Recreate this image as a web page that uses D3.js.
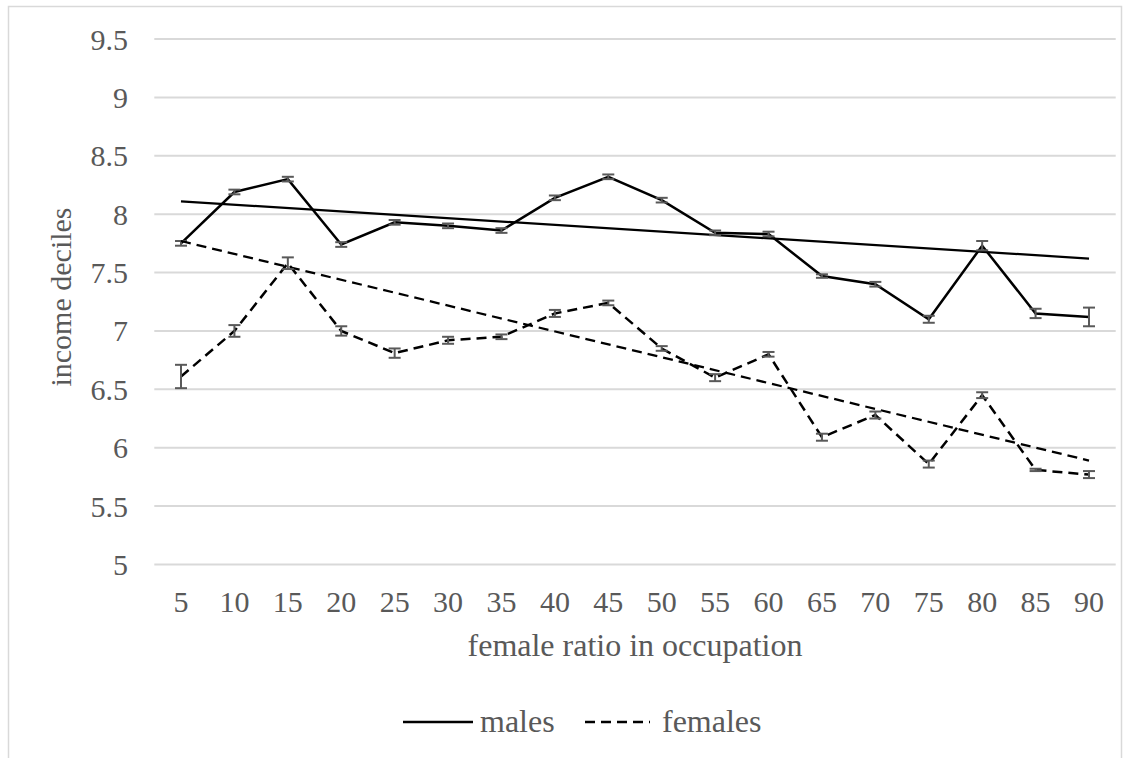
<!DOCTYPE html>
<meta charset="utf-8">
<body style="margin:0;background:#fff">

<svg width="1132" height="758"></svg>

<script src="https://d3js.org/d3.v7.min.js"></script>
<script>

// values
var categories = [5, 10, 15, 20, 25, 30, 35, 40, 45, 50, 55, 60, 65, 70, 75, 80, 85, 90];
var males = [7.75, 8.19, 8.30, 7.74, 7.93, 7.90, 7.86, 8.14, 8.32, 8.12, 7.84, 7.83, 7.47, 7.40, 7.10, 7.73, 7.15, 7.12];
var malesErr = [0.02, 0.02, 0.02, 0.02, 0.02, 0.02, 0.02, 0.02, 0.02, 0.02, 0.02, 0.02, 0.015, 0.02, 0.03, 0.04, 0.04, 0.08];
var females = [6.61, 7.00, 7.58, 7.00, 6.81, 6.92, 6.95, 7.15, 7.24, 6.85, 6.60, 6.80, 6.09, 6.28, 5.86, 6.45, 5.81, 5.77];
var femalesErr = [0.10, 0.05, 0.05, 0.04, 0.04, 0.03, 0.02, 0.03, 0.02, 0.02, 0.03, 0.02, 0.03, 0.03, 0.03, 0.025, 0.01, 0.03];
// linear trend lines, value at first and last category
var malesTrend = [8.11, 7.62];
var femalesTrend = [7.77, 5.89];
var yTicks = [5, 5.5, 6, 6.5, 7, 7.5, 8, 8.5, 9, 9.5];

var svg = d3.select('svg');
var font = '"Liberation Serif", "Times New Roman", serif';
var textCol = '#595959';

// outer frame
svg.append('rect')
  .attr('x', 8.5).attr('y', 6.5)
  .attr('width', 1113).attr('height', 760)
  .attr('fill', 'none')
  .attr('stroke', '#d9d9d9')
  .attr('stroke-width', 1.5);

var x = d3.scaleBand()
  .domain(categories)
  .range([154.3, 1115.7]);

var y = d3.scaleLinear()
  .domain([5, 9.5])
  .range([564.5, 39]);

var cx = function(c) { return x(c) + x.bandwidth() / 2; };

// gridlines
svg.append('g').selectAll('line')
  .data(yTicks)
  .join('line')
  .attr('x1', 154.3).attr('x2', 1115.7)
  .attr('y1', function(d) { return y(d); })
  .attr('y2', function(d) { return y(d); })
  .attr('stroke', '#d9d9d9')
  .attr('stroke-width', 2);

// y tick labels
svg.append('g').selectAll('text')
  .data(yTicks)
  .join('text')
  .attr('x', 128)
  .attr('y', function(d) { return y(d); })
  .attr('dy', '.35em')
  .attr('text-anchor', 'end')
  .attr('font-family', font)
  .attr('font-size', 30)
  .attr('fill', textCol)
  .text(function(d) { return d; });

// x tick labels
svg.append('g').selectAll('text')
  .data(categories)
  .join('text')
  .attr('x', cx)
  .attr('y', 612)
  .attr('text-anchor', 'middle')
  .attr('font-family', font)
  .attr('font-size', 30)
  .attr('fill', textCol)
  .text(function(d) { return d; });

// axis titles
svg.append('text')
  .attr('transform', 'translate(71,297) rotate(-90)')
  .attr('text-anchor', 'middle')
  .attr('font-family', font)
  .attr('font-size', 30)
  .attr('fill', textCol)
  .text('income deciles');

svg.append('text')
  .attr('x', 635).attr('y', 656)
  .attr('text-anchor', 'middle')
  .attr('font-family', font)
  .attr('font-size', 32)
  .attr('fill', textCol)
  .text('female ratio in occupation');

var series = [
  { name: 'males', values: males, err: malesErr, trend: malesTrend, dash: null },
  { name: 'females', values: females, err: femalesErr, trend: femalesTrend, dash: '10,6' }
];

var line = d3.line()
  .x(function(d) { return cx(d.c); })
  .y(function(d) { return y(d.v); });

var first = categories[0], last = categories[categories.length - 1];

series.forEach(function(s) {
  // trend line
  svg.append('path')
    .attr('d', line([{ c: first, v: s.trend[0] }, { c: last, v: s.trend[1] }]))
    .attr('fill', 'none')
    .attr('stroke', '#000')
    .attr('stroke-width', 2.25)
    .attr('stroke-dasharray', s.dash);

  var pts = categories.map(function(c, i) { return { c: c, v: s.values[i], e: s.err[i] }; });

  svg.append('path')
    .attr('d', line(pts))
    .attr('fill', 'none')
    .attr('stroke', '#000')
    .attr('stroke-width', 2.5)
    .attr('stroke-dasharray', s.dash);

  // error bars
  var eb = svg.append('g')
    .attr('stroke', '#595959')
    .attr('stroke-width', 2);
  eb.selectAll('line.v').data(pts).join('line')
    .attr('class', 'v')
    .attr('x1', function(d) { return cx(d.c); })
    .attr('x2', function(d) { return cx(d.c); })
    .attr('y1', function(d) { return y(d.v - d.e); })
    .attr('y2', function(d) { return y(d.v + d.e); });
  eb.selectAll('line.t').data(pts).join('line')
    .attr('class', 't')
    .attr('x1', function(d) { return cx(d.c) - 6; })
    .attr('x2', function(d) { return cx(d.c) + 6; })
    .attr('y1', function(d) { return y(d.v + d.e); })
    .attr('y2', function(d) { return y(d.v + d.e); });
  eb.selectAll('line.b').data(pts).join('line')
    .attr('class', 'b')
    .attr('x1', function(d) { return cx(d.c) - 6; })
    .attr('x2', function(d) { return cx(d.c) + 6; })
    .attr('y1', function(d) { return y(d.v - d.e); })
    .attr('y2', function(d) { return y(d.v - d.e); });
});

// legend
var legend = svg.append('g');
var legendItems = [
  { name: 'males', dash: null, x1: 403, x2: 473, tx: 480 },
  { name: 'females', dash: '10,6', x1: 585, x2: 650, tx: 662 }
];
legendItems.forEach(function(l) {
  legend.append('line')
    .attr('x1', l.x1).attr('x2', l.x2)
    .attr('y1', 722).attr('y2', 722)
    .attr('stroke', '#000')
    .attr('stroke-width', 2.5)
    .attr('stroke-dasharray', l.dash);
  legend.append('text')
    .attr('x', l.tx).attr('y', 732)
    .attr('font-family', font)
    .attr('font-size', 32)
    .attr('fill', textCol)
    .text(l.name);
});

</script>
